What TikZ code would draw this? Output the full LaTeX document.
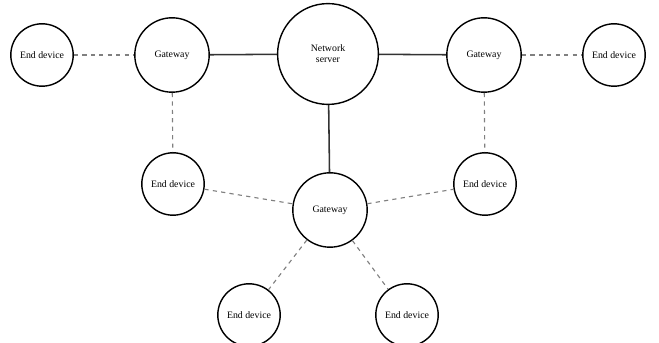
\documentclass[tikz,border=0pt]{standalone}
\usepackage{fontspec}
\setmainfont{Liberation Serif}
\usetikzlibrary{positioning}

\begin{document}
\begin{tikzpicture}[
    device/.style={circle, draw, line width=1pt, minimum size=1.56cm, inner sep=0pt, align=center, font=\scriptsize},
    gateway/.style={circle, draw, line width=1pt, minimum size=1.86cm, inner sep=0pt, align=center, font=\scriptsize},
    server/.style={circle, draw, line width=1pt, minimum size=2.52cm, inner sep=0pt, align=center, font=\scriptsize},
    backhaul/.style={line width=1.1pt, black!80},
    radio/.style={dashed, gray, thick}
]
    \useasboundingbox (0,0) rectangle (16.475,8.575);

    % Network server
    \node[server] (ns) at (8.2,7.225) {Network\\server};

    % Gateways
    \node[gateway] (gwleft) at (4.3,7.2) {Gateway};
    \node[gateway] (gwright) at (12.1,7.2) {Gateway};
    \node[gateway] (gwmid) at (8.25,3.325) {Gateway};

    % End devices
    \node[device] (edleft) at (1.05,7.2) {End device};
    \node[device] (edright) at (15.35,7.2) {End device};
    \node[device] (edmidleft) at (4.325,3.975) {End device};
    \node[device] (edmidright) at (12.125,3.975) {End device};
    \node[device] (edlow1) at (6.225,0.7) {End device};
    \node[device] (edlow2) at (10.175,0.7) {End device};

    % Backhaul links
    \draw[backhaul] (gwleft) -- (ns);
    \draw[backhaul] (ns) -- (gwright);
    \draw[backhaul] (ns) -- (gwmid);

    % Radio links
    \draw[radio] (edleft) -- (gwleft);
    \draw[radio] (gwright) -- (edright);
    \draw[radio] (gwleft) -- (edmidleft);
    \draw[radio] (gwright) -- (edmidright);
    \draw[radio] (edmidleft) -- (gwmid);
    \draw[radio] (gwmid) -- (edmidright);
    \draw[radio] (gwmid) -- (edlow1);
    \draw[radio] (gwmid) -- (edlow2);
\end{tikzpicture}
\end{document}
